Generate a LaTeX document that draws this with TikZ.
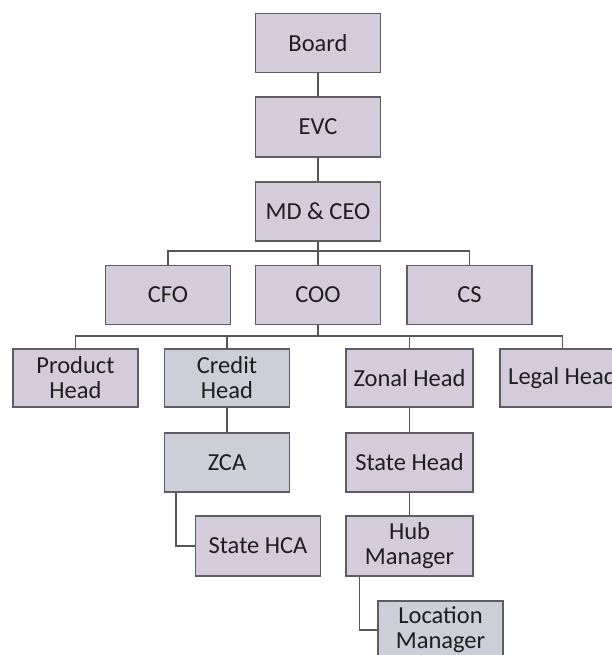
\documentclass[tikz,border=0pt]{standalone}
\usepackage{fontspec}
\setmainfont{Carlito}
\definecolor{boxfill}{RGB}{213,204,219}
\definecolor{boxblue}{RGB}{204,206,216}
\definecolor{boxedge}{RGB}{95,92,100}
\definecolor{linecol}{RGB}{85,85,90}
\definecolor{txt}{RGB}{30,30,32}
\tikzset{
  orgbox/.style={draw=boxedge, line width=1.3pt, fill=boxfill, minimum width=125pt,
    minimum height=59pt, inner sep=0pt, align=center, text=txt,
    font=\fontsize{24.5}{25}\selectfont},
  bluebox/.style={orgbox, fill=boxblue},
  link/.style={draw=linecol, line width=1.5pt}
}
\begin{document}
\begin{tikzpicture}[x=1pt,y=-1pt]
\useasboundingbox (0,0) rectangle (612,655);
\clip (0,0) rectangle (612,655);
\node[orgbox] (board) at (318,43) {Board};
\node[orgbox, minimum height=60pt] (evc) at (318,127) {EVC};
\node[orgbox] (md) at (318,211.5) {MD \& CEO};
\node[orgbox] (cfo) at (168,295) {CFO};
\node[orgbox] (coo) at (318,295) {COO};
\node[orgbox] (cs) at (469.5,295) {CS};
\node[orgbox, minimum height=58pt] (product) at (75.5,378) {Product\\Head};
\node[bluebox, minimum height=58pt] (credit) at (227,378) {Credit\\Head};
\node[orgbox, minimum height=58pt, minimum width=127pt] (zonal) at (409.5,378) {Zonal Head};
\node[orgbox, minimum height=58pt] (legal) at (562.5,378) {Legal Head};
\node[bluebox] (zca) at (227,462.5) {ZCA};
\node[orgbox, minimum width=127pt] (state) at (409.5,462.5) {State Head};
\node[orgbox, minimum height=60pt] (statehca) at (258,546) {State HCA};
\node[orgbox, minimum height=60pt, minimum width=127pt] (hub) at (409.5,546) {Hub\\Manager};
\node[bluebox, minimum height=58pt] (loc) at (440.5,630) {Location\\Manager};
\coordinate (b1) at (318,251);
\coordinate (b2) at (318,336);
\draw[link] (board.south) -- (evc.north);
\draw[link] (evc.south) -- (md.north);
\draw[link] (md.south) -- (coo.north);
\draw[link] (cfo.north) |- (b1) -| (cs.north);
\draw[link] (coo.south) -- (b2);
\draw[link] (product.north) |- (b2) -| (legal.north);
\draw[link] (credit.north) -- (credit.north |- b2);
\draw[link] (zonal.north) -- (zonal.north |- b2);
\draw[link] (credit.south) -- (zca.north);
\draw[link] (zonal.south) -- (state.north);
\draw[link] (state.south) -- (hub.north);
\draw[link] ([xshift=12pt]zca.south west) |- (statehca.west);
\draw[link] ([xshift=14pt]hub.south west) |- (loc.west);
\end{tikzpicture}
\end{document}
